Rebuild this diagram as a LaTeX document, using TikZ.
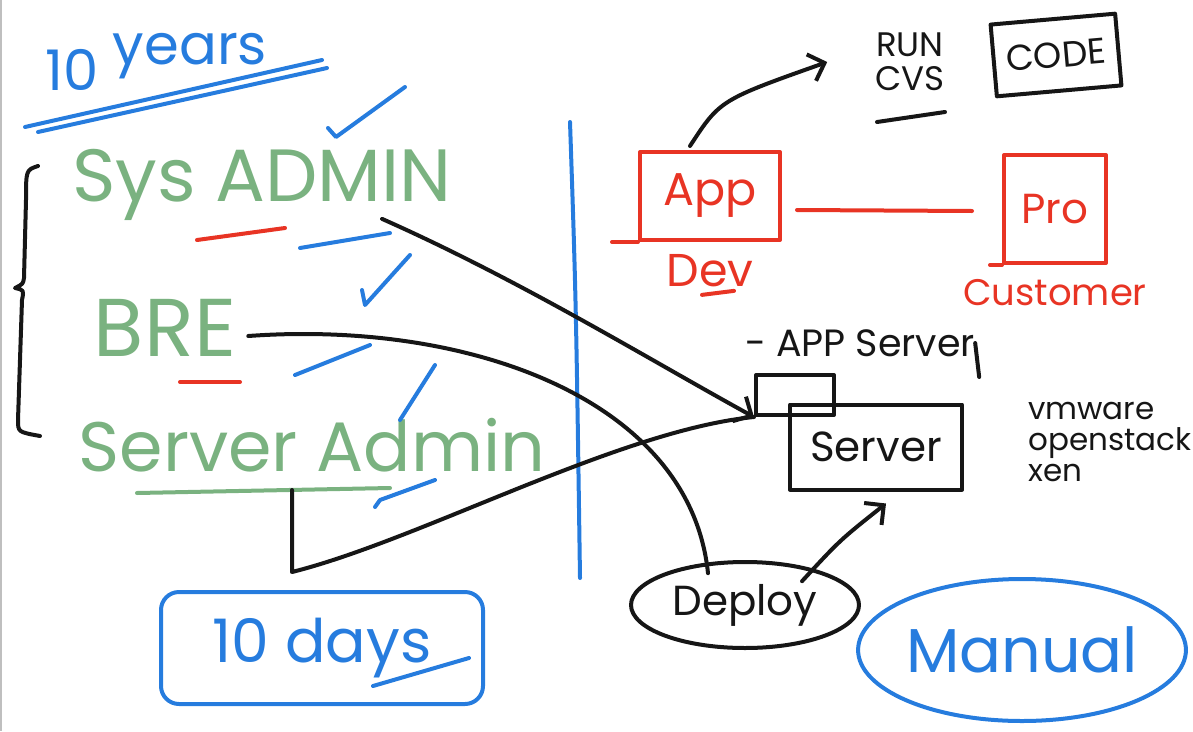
\documentclass[tikz,border=0pt]{standalone}
\usepackage{fontspec}
\setmainfont{Poppins}
\usetikzlibrary{arrows.meta,positioning,shapes.geometric,calc}

\definecolor{inkblue}{RGB}{38,124,222}
\definecolor{inkgreen}{RGB}{122,178,128}
\definecolor{inkred}{RGB}{232,52,36}
\definecolor{inkblack}{RGB}{22,22,22}

\tikzset{
  pen/.style={line width=4pt,line cap=round,line join=round},
  bluepen/.style={pen,inkblue},
  redpen/.style={pen,inkred},
  blackpen/.style={pen,inkblack},
  word/.style={inner sep=0pt,font=\fontsize{#1}{#1}\selectfont},
  arrow/.style={blackpen,-{Straight Barb[length=14pt,width=28pt]}},
}

\begin{document}
\begin{tikzpicture}[x=1pt,y=-1pt]
        \useasboundingbox (0,0) rectangle (1193,731);
        \draw[gray!50,line width=2pt] (1,0) -- (1,731);
        % left side: roles
        \node[word=56,text=inkblue] (ten) at (72,70) {10};
        \node[word=56,text=inkblue,right=14pt of ten,yshift=14pt] (years) {years};
        \draw[bluepen] (25,127) -- (322,60);
        \draw[bluepen] (38,132) -- (327,68);
        \node[word=74,text=inkgreen] (sysadmin) at (262,185) {Sys ADMIN};
        \node[word=82,text=inkgreen] (bre) at (165,328) {BRE};
        \node[word=70,text=inkgreen] (srvadmin) at (312,445) {Server Admin};
        \draw[redpen] (197,240) -- (285,228);
        \draw[redpen] (180,382) -- (240,382);
        \draw[pen,inkgreen] (137,493) -- (390,488);
        \coordinate (saline) at (292,490);
        \draw[blackpen] (38,166) .. controls (26,170) .. (26,200) -- (24,278)
          .. controls (23,284) .. (15,288) .. controls (24,290) .. (22,300)
          -- (18,420) .. controls (18,432) .. (40,436);
        % ticks
        \draw[bluepen] (328,128) -- (336,137) -- (405,87);
        \draw[bluepen] (300,248) -- (390,233);
        \draw[bluepen] (362,290) -- (365,305) -- (410,255);
        \draw[bluepen] (295,375) -- (370,345);
        \draw[bluepen] (400,420) -- (435,365);
        \draw[bluepen] (375,507) -- (380,500) -- (435,480);
        \draw[bluepen] (570,122) .. controls (576,300) .. (580,578);
        % right side
        \node[word=34,align=center,text=inkblack] (cvs) at (910,62) {RUN\\CVS};
        \draw[blackpen] (877,122) -- (945,112);
        \node[blackpen,draw,rotate=5,minimum width=125pt,minimum height=72pt,
          word=36,text=inkblack] (code) at (1056,55) {CODE};
        \node[redpen,draw,minimum width=140pt,minimum height=88pt,word=46,text=inkred]
          (app) at (710,196) {App};
        \draw[redpen] (app.south west) -- ++(-26,0);
        \node[word=46,text=inkred,below=12pt of app] (dev) {Dev};
        \draw[redpen] ($(dev.south)+(-8,8)$) -- ++(32,-4);
        \node[redpen,draw,minimum width=102pt,minimum height=108pt,word=42,text=inkred]
          (prod) at (1055,209) {Pro};
        \draw[redpen] (prod.south west) -- ++(-12,0);
        \node[word=37,text=inkred,below=14pt of prod] (cust) {Customer};
        \draw[redpen] ($(app.east)+(15,14)$) -- ($(prod.west)+(-30,2)$);
        \draw[arrow] ($(app.north west)+(52,-4)$) .. controls (720,100) .. ($(cvs.west)+(-48,0)$);
        \node[word=38,text=inkblack] (appsrv) at (860,343) {- APP Server};
        \draw[blackpen] (appsrv.east) -- ++(4,34);
        \node[blackpen,draw,minimum width=78pt,minimum height=40pt] (appbox) at (795,395) {};
        \node[blackpen,draw,minimum width=172pt,minimum height=85pt,word=42,text=inkblack]
          (server) at (876,447) {Server};
        \node[word=31,align=left,anchor=north west,text=inkblack] (virt) at (1028,402)
          {vmware\\openstack\\xen};
        \node[blackpen,draw,ellipse,minimum width=228pt,minimum height=86pt,word=42,text=inkblack]
          (deploy) at (745,605) {Deploy};
        \node[bluepen,draw,ellipse,minimum width=308pt,minimum height=142pt,word=62,text=inkblue]
          (manual) at (1022,650) {Manual};
        \node[bluepen,draw,rounded corners=18pt,minimum width=322pt,minimum height=112pt,
          word=60,text=inkblue] (days) at (322,648) {10 days};
        \draw[bluepen] ($(days.east)+(-112,38)$) -- ++(96,-28);
        % connectors
        \draw[arrow] ($(sysadmin.south east)+(-70,-2)$) .. controls (520,280) and (650,360) .. (appbox.south west);
        \draw[blackpen] (saline) -- (292,572) .. controls (420,540) and (620,430) .. (appbox.south west);
        \draw[blackpen] ($(bre.east)+(12,8)$) .. controls (470,320) and (690,400) .. (deploy.north west -| 708,0);
        \draw[arrow] ($(deploy.north east)+(-25,8)$) .. controls (840,540) .. ($(server.south)+(10,12)$);
      \end{tikzpicture}
\end{document}
